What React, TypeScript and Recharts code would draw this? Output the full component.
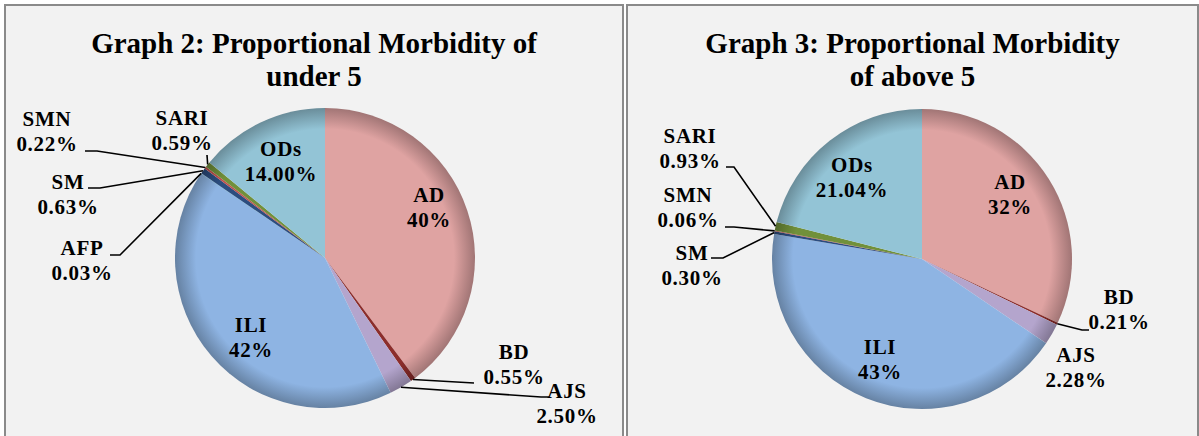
import { Cell, Pie, PieChart } from "recharts";

// Graph 2: under 5
const categoriesUnder5 = ["AD", "BD", "AJS", "ILI", "AFP", "SM", "SMN", "SARI", "ODs"];
const valuesUnder5 = [39.74, 0.55, 2.5, 41.74, 0.03, 0.63, 0.22, 0.59, 14.0];

// Graph 3: above 5
const categoriesAbove5 = ["AD", "BD", "AJS", "ILI", "SM", "SMN", "SARI", "ODs"];
const valuesAbove5 = [32.0, 0.21, 2.28, 43.18, 0.3, 0.06, 0.93, 21.04];

// shown as whole percentages in the source
const ROUNDED = ["AD", "ILI"];

const COLORS: Record<string, string> = {
  AD: "#dfa3a2",
  BD: "#8c2d2b",
  AJS: "#b4a5cd",
  ILI: "#8eb4e3",
  AFP: "#4bacc6",
  SM: "#2c4d7f",
  SMN: "#c0504d",
  SARI: "#71903a",
  ODs: "#93c4d6",
};

const FONT = '"Liberation Serif", "Times New Roman", serif';
const RADIUS = 150;
const LINE_GAP = 25;

type LabelPos = { tx: number; ty: number; ex?: number; ey?: number; tail?: number };

// label placement relative to the pie centre (tx/ty = text block centre, ex/ey = leader elbow)
const LAYOUT_UNDER5: Record<string, LabelPos> = {
  AD: { tx: 104, ty: -50.5 },
  ILI: { tx: -74, ty: 79.5 },
  ODs: { tx: -44, ty: -96.5 },
  BD: { tx: 189, ty: 106.5, ex: 149, ey: 125 },
  AJS: { tx: 242, ty: 145.5, ex: 216, ey: 139, tail: 8 },
  SARI: { tx: -143, ty: -127.5, ex: -118, ey: -103 },
  SMN: { tx: -278, ty: -126.5, ex: -228, ey: -107, tail: -12 },
  SM: { tx: -257, ty: -63.5, ex: -225, ey: -70, tail: -12 },
  AFP: { tx: -243, ty: 2.5, ex: -205, ey: -3, tail: -10 },
};

const LAYOUT_ABOVE5: Record<string, LabelPos> = {
  AD: { tx: 88, ty: -64.5 },
  ODs: { tx: -70, ty: -81.5 },
  ILI: { tx: -42, ty: 100.5 },
  AJS: { tx: 154, ty: 108.5 },
  BD: { tx: 197, ty: 50.5, ex: 160, ey: 71, tail: 7 },
  SARI: { tx: -232, ty: -110.5, ex: -188, ey: -92, tail: -8 },
  SMN: { tx: -234, ty: -51.5, ex: -188, ey: -32, tail: -9 },
  SM: { tx: -230, ty: 6.5, ex: -199, ey: -1, tail: -12 },
};

function shade(hex: string, f: number) {
  const n = parseInt(hex.slice(1), 16);
  const ch = [(n >> 16) & 255, (n >> 8) & 255, n & 255].map((c) => Math.round(c * f));
  return `rgb(${ch.join(",")})`;
}

function fmt(name: string, value: number) {
  return ROUNDED.includes(name) ? `${Math.round(value)}%` : `${value.toFixed(2)}%`;
}

function makeLabel(categories: string[], layout: Record<string, LabelPos>) {
  return (props: any) => {
    const { cx, cy, midAngle, outerRadius, index, value } = props;
    const name = categories[index];
    const pos = layout[name];
    if (!pos) return null;
    const x = cx + pos.tx;
    const y = cy + pos.ty;
    let leader = null;
    if (pos.ex !== undefined && pos.ey !== undefined) {
      const rad = (-midAngle * Math.PI) / 180;
      const sx = cx + outerRadius * Math.cos(rad);
      const sy = cy + outerRadius * Math.sin(rad);
      const pts = [[sx, sy], [cx + pos.ex, cy + pos.ey]];
      if (pos.tail) pts.push([cx + pos.ex + pos.tail, cy + pos.ey]);
      leader = (
        <polyline
          points={pts.map((p) => p.join(",")).join(" ")}
          fill="none"
          stroke="#000"
          strokeWidth={1.6}
        />
      );
    }
    return (
      <g key={`lbl-${name}`}>
        {leader}
        <text
          textAnchor="middle"
          fontFamily={FONT}
          fontWeight="bold"
          fontSize={21}
          letterSpacing={0.7}
          fill="#000"
        >
          <tspan x={x} y={y - LINE_GAP / 2 + 7}>{name}</tspan>
          <tspan x={x} y={y + LINE_GAP / 2 + 7}>{fmt(name, value)}</tspan>
        </text>
      </g>
    );
  };
}

type PanelProps = {
  id: string;
  title: string[];
  categories: string[];
  values: number[];
  layout: Record<string, LabelPos>;
  left: number;
  width: number;
  cx: number;
  cy: number;
};

function Panel({ id, title, categories, values, layout, left, width, cx, cy }: PanelProps) {
  const data = categories.map((name, i) => ({ name, value: values[i] }));
  return (
    <div
      style={{
        position: "absolute",
        left,
        top: 4,
        width,
        height: 450,
        boxSizing: "border-box",
        border: "2px solid #8a8a8a",
        background: "#f2f2f2",
      }}
    >
      <div
        style={{
          position: "absolute",
          left: 0,
          right: 0,
          top: 20.7,
          textAlign: "center",
          fontFamily: FONT,
          fontWeight: "bold",
          fontSize: 29,
          lineHeight: "33px",
          color: "#000",
        }}
      >
        {title.map((t) => (
          <div key={t}>{t}</div>
        ))}
      </div>
      <div style={{ position: "absolute", left: 0, top: 0 }}>
        <PieChart width={width - 4} height={430} margin={{ top: 0, right: 0, bottom: 0, left: 0 }}>
          <defs>
            {categories.map((name) => (
              <radialGradient
                key={name}
                id={`${id}-${name}`}
                gradientUnits="userSpaceOnUse"
                cx={cx}
                cy={cy}
                r={RADIUS}
              >
                <stop offset="0%" stopColor={COLORS[name]} />
                <stop offset="86%" stopColor={COLORS[name]} />
                <stop offset="100%" stopColor={shade(COLORS[name], 0.72)} />
              </radialGradient>
            ))}
          </defs>
          <Pie
            data={data}
            dataKey="value"
            nameKey="name"
            cx={cx}
            cy={cy}
            outerRadius={RADIUS}
            startAngle={90}
            endAngle={-270}
            stroke="none"
            labelLine={false}
            label={makeLabel(categories, layout)}
            isAnimationActive={false}
          >
            {data.map((d) => (
              <Cell key={d.name} fill={`url(#${id}-${d.name})`} />
            ))}
          </Pie>
        </PieChart>
      </div>
    </div>
  );
}

export default function App() {
  return (
    <div style={{ position: "absolute", left: 0, top: 0, width: 1199, height: 436, overflow: "hidden", background: "#fff" }}>
      <Panel
        id="u5"
        title={["Graph 2: Proportional Morbidity of", "under 5"]}
        categories={categoriesUnder5}
        values={valuesUnder5}
        layout={LAYOUT_UNDER5}
        left={4}
        width={620}
        cx={319}
        cy={252}
      />
      <Panel
        id="a5"
        title={["Graph 3: Proportional Morbidity", "of above 5"]}
        categories={categoriesAbove5}
        values={valuesAbove5}
        layout={LAYOUT_ABOVE5}
        left={626}
        width={573}
        cx={294}
        cy={253}
      />
    </div>
  );
}
